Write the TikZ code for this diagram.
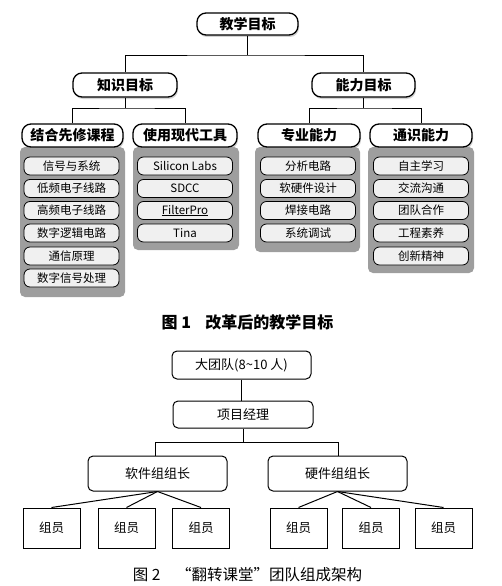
\documentclass[tikz,border=0pt]{standalone}
\usepackage{fontspec}
\setmainfont{Noto Sans CJK SC}
\usetikzlibrary{shadows}
\definecolor{panelgray}{gray}{0.62}
\definecolor{itemgray}{gray}{0.94}
\tikzset{
  hdr/.style={draw=black, line width=1.3pt, fill=white, rounded corners=9pt,
    font=\fontsize{14}{16}\selectfont\bfseries, inner sep=0pt,
    drop shadow={shadow xshift=1pt, shadow yshift=-2pt, fill=gray!70}},
  panel/.style={fill=panelgray, rounded corners=5pt, inner sep=0pt},
  item/.style={draw=black, line width=0.8pt, fill=itemgray, rounded corners=6pt,
    minimum width=95pt, minimum height=18pt, inner sep=0pt,
    font=\fontsize{11.5}{13}\selectfont},
  conn/.style={draw=black, line width=0.8pt},
  rbox/.style={draw=black, line width=1pt, rounded corners=5pt, fill=white,
    inner sep=0pt, font=\fontsize{13}{15}\selectfont},
  mbox/.style={draw=black, line width=1pt, fill=white, minimum width=57pt,
    minimum height=40pt, inner sep=0pt, font=\fontsize{12.5}{14}\selectfont},
  captxt/.style={inner sep=0pt}
}
\begin{document}
\begin{tikzpicture}[x=1pt, y=-1pt]
\useasboundingbox (0,0) rectangle (502,586);
% ---------- Figure 1 ----------
\node[panel, minimum width=105pt, minimum height=150pt] (p1) at (72.5,222) {};
\node[panel, minimum width=106pt, minimum height=103pt] (p2) at (186,198.5) {};
\node[panel, minimum width=105pt, minimum height=105pt] (p3) at (307.5,199.5) {};
\node[panel, minimum width=106pt, minimum height=126pt] (p4) at (421,210) {};

\node[hdr, minimum width=101pt, minimum height=22pt] (top) at (247.5,24) {教学目标};
\node[hdr, minimum width=104pt, minimum height=24pt] (zs) at (125,85) {知识目标};
\node[hdr, minimum width=103pt, minimum height=24pt] (nl) at (363.5,85) {能力目标};
\node[hdr, minimum width=101pt, minimum height=23pt] (c1) at (72.5,135.5) {结合先修课程};
\node[hdr, minimum width=104pt, minimum height=23pt] (c2) at (185,135.5) {使用现代工具};
\node[hdr, minimum width=102pt, minimum height=23pt] (c3) at (309,135.5) {专业能力};
\node[hdr, minimum width=102pt, minimum height=23pt] (c4) at (421,135.5) {通识能力};

\coordinate (b1) at (247.5,55);
\coordinate (b2) at (125,108);
\coordinate (b3) at (363.5,108);
\draw[conn] (top.south) -- (b1);
\draw[conn] (zs.north) |- (b1) -| (nl.north);
\draw[conn] (zs.south) -- (b2);
\draw[conn] (c1.north) |- (b2) -| (c2.north);
\draw[conn] (nl.south) -- (b3);
\draw[conn] (c3.north) |- (b3) -| (c4.north);

% items panel 1
\node[item] (a1) at (71.5,166) {信号与系统};
\node[item] (a2) at (71.5,188.5) {低频电子线路};
\node[item] (a3) at (71.5,210.5) {高频电子线路};
\node[item] (a4) at (71.5,233) {数字逻辑电路};
\node[item] (a5) at (71.5,256) {通信原理};
\node[item] (a6) at (71.5,278) {数字信号处理};
% items panel 2
\node[item] (t1) at (185,166) {Silicon Labs};
\node[item] (t2) at (185,188.5) {SDCC};
\node[item] (t3) at (185,210.5) {\underline{FilterPro}};
\node[item] (t4) at (185,233) {Tina};
% items panel 3
\node[item] (s1) at (308,166) {分析电路};
\node[item] (s2) at (308,188.5) {软硬件设计};
\node[item] (s3) at (308,210.5) {焊接电路};
\node[item] (s4) at (308,233) {系统调试};
% items panel 4
\node[item] (g1) at (421,166) {自主学习};
\node[item] (g2) at (421,188.5) {交流沟通};
\node[item] (g3) at (421,210.5) {团队合作};
\node[item] (g4) at (421,233) {工程素养};
\node[item] (g5) at (421,256) {创新精神};

\node[captxt, font=\fontsize{16}{18}\selectfont\bfseries] (cap1) at (247.5,322) {图 1\hspace{0.9em}改革后的教学目标};

% ---------- Figure 2 ----------
\node[rbox, minimum width=139pt, minimum height=28pt] (big) at (241.5,365) {大团队(8\textasciitilde10 人)};
\node[rbox, minimum width=140pt, minimum height=27pt] (pm) at (243,414.5) {项目经理};
\node[rbox, minimum width=139pt, minimum height=35pt] (sw) at (157.5,473.5) {软件组组长};
\node[rbox, minimum width=139pt, minimum height=35pt] (hw) at (337.5,473.5) {硬件组组长};

\node[mbox] (m1) at (51.5,528) {组员};
\node[mbox] (m2) at (126.5,528) {组员};
\node[mbox] (m3) at (201,528) {组员};
\node[mbox] (m4) at (298.5,528) {组员};
\node[mbox] (m5) at (371,528) {组员};
\node[mbox] (m6) at (443.5,528) {组员};

\coordinate (b4) at (243,442.5);
\draw[conn, line width=1pt] (big.south) -- (big.south |- pm.north);
\draw[conn, line width=1pt] (pm.south) -- (b4);
\draw[conn, line width=1pt] ([xshift=-2.5pt]sw.north) |- (b4) -| ([xshift=0.5pt]hw.north);
\foreach \m in {m1,m2,m3} \draw[conn, line width=1pt] (sw.south) -- (\m.north);
\foreach \m in {m4,m5,m6} \draw[conn, line width=1pt] (hw.south) -- (\m.north);

\node[captxt, font=\fontsize{15.5}{18}\selectfont] (cap2) at (247.5,575) {图 2\hspace{1em}“翻转课堂”团队组成架构};
\end{tikzpicture}
\end{document}
